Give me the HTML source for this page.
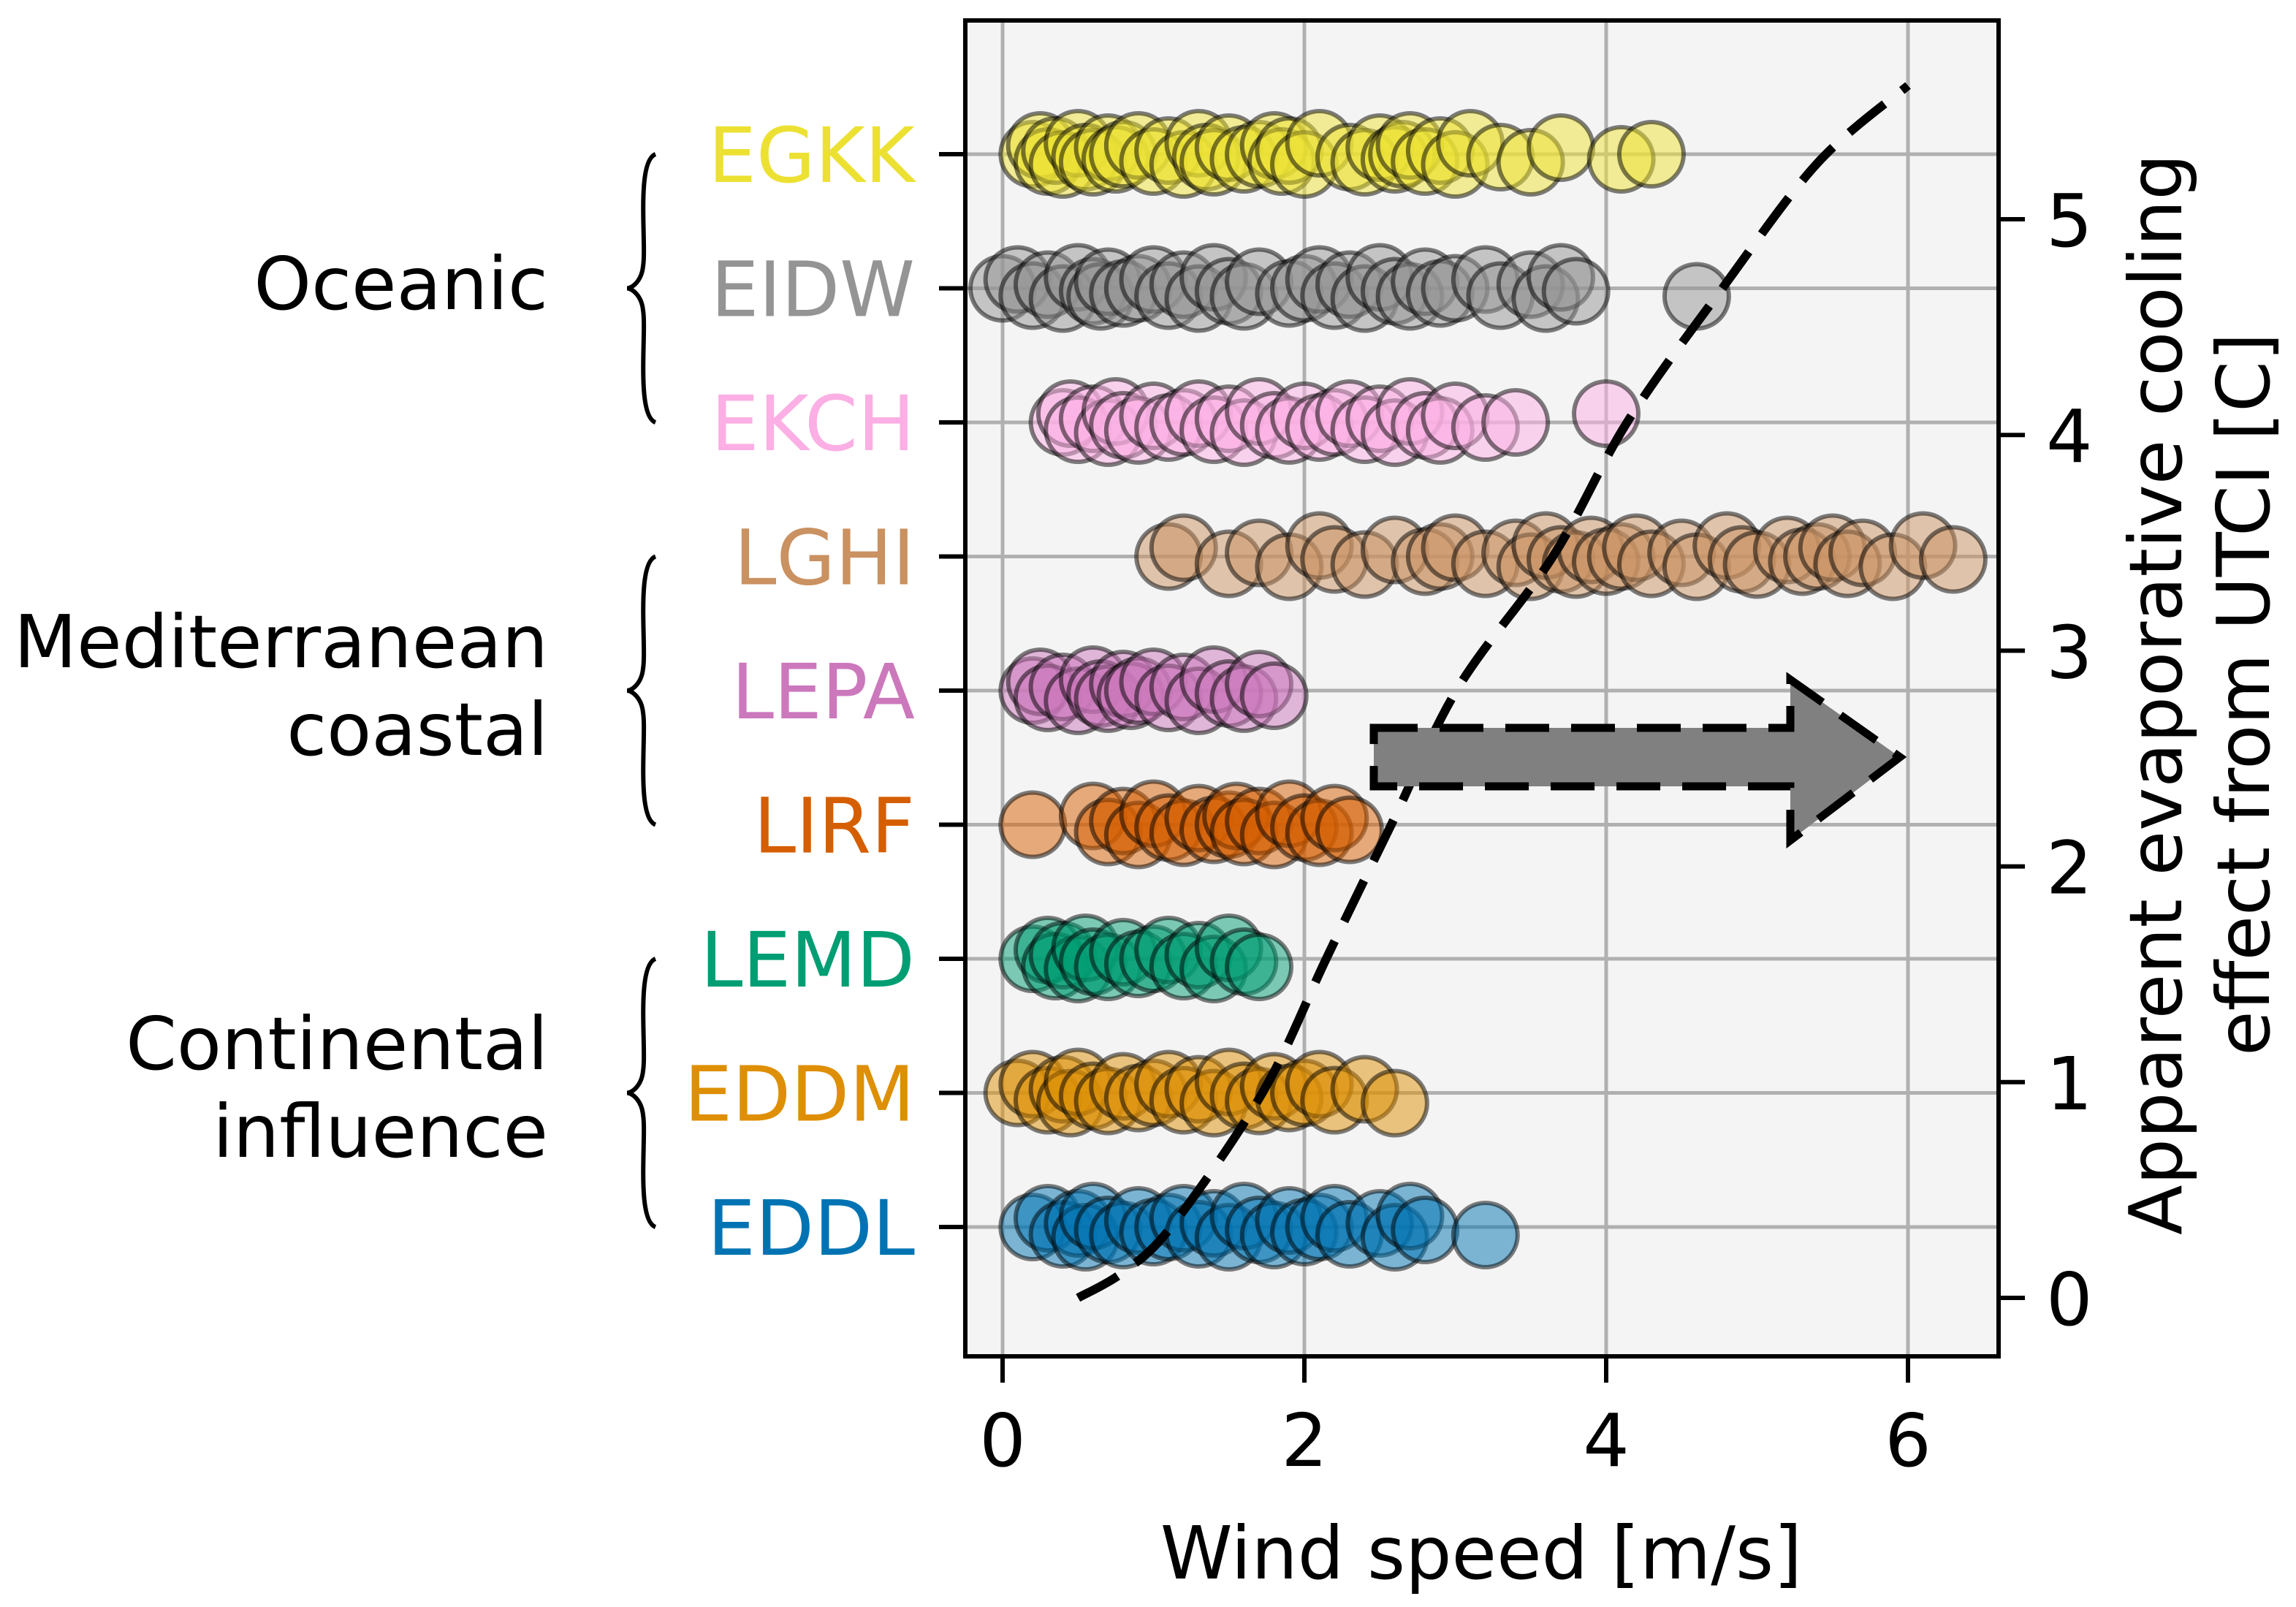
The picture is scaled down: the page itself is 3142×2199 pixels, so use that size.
<!DOCTYPE html>
<html><head><meta charset="utf-8"><style>
html,body{margin:0;padding:0;background:#fff}
svg{display:block}
text{font-family:"DejaVu Sans","Liberation Sans",sans-serif}
</style></head><body>
<svg id="chart" width="3142" height="2199" viewBox="0 0 3142 2199" xmlns="http://www.w3.org/2000/svg">
<rect x="1321" y="28" width="1414" height="1828" fill="#f4f4f4"/>
<g id="grid"></g>
<g id="points"></g>
<g id="curve"></g>
<path d="M1880,996 L2450,996 L2450,930 L2600,1036 L2450,1150 L2450,1076 L1880,1076 Z" fill="#808080" stroke="#000" stroke-width="11" stroke-dasharray="60,30"/>
<rect x="1321" y="28" width="1414" height="1828" fill="none" stroke="#000" stroke-width="6"/>
<g id="axes"></g>
<g font-size="100" fill="#000" text-anchor="end">
<text x="750" y="423">Oceanic</text>
<text x="750" y="913">Mediterranean</text>
<text x="750" y="1033">coastal</text>
<text x="750" y="1463">Continental</text>
<text x="750" y="1583">influence</text>
</g>
<g id="braces" fill="none" stroke="#000" stroke-width="6"></g>
<text x="2027" y="2160" font-size="100" text-anchor="middle">Wind speed [m/s]</text>
<g transform="translate(3010,950) rotate(-90)" font-size="100" text-anchor="middle">
<text x="0" y="-25">Apparent evaporative cooling</text>
<text x="0" y="95">effect from UTCI [C]</text>
</g>
</svg>
<script>
const stations = ["EGKK","EIDW","EKCH","LGHI","LEPA","LIRF","LEMD","EDDM","EDDL"];
const stationColors = ["#ece133","#949494","#fbafe4","#ca9161","#cc78bc","#d55e00","#029e73","#de8f05","#0173b2"];
const windEGKK = [0.2,0.25,0.3,0.35,0.4,0.5,0.55,0.6,0.7,0.75,0.8,0.9,1.0,1.1,1.2,1.3,1.35,1.4,1.5,1.6,1.7,1.8,1.85,1.9,2.0,2.1,2.3,2.4,2.5,2.6,2.65,2.7,2.8,2.9,3.0,3.1,3.3,3.5,3.7,4.1,4.3];
const windEIDW = [0.0,0.1,0.2,0.3,0.4,0.5,0.6,0.65,0.7,0.8,0.9,1.0,1.1,1.2,1.3,1.4,1.5,1.6,1.7,1.9,2.0,2.1,2.2,2.3,2.4,2.5,2.6,2.7,2.8,2.9,3.0,3.2,3.3,3.5,3.6,3.7,3.8,4.6];
const windEKCH = [0.4,0.45,0.5,0.6,0.7,0.75,0.8,0.9,1.0,1.1,1.2,1.3,1.4,1.5,1.6,1.7,1.8,1.9,2.0,2.1,2.2,2.3,2.4,2.5,2.6,2.7,2.8,2.9,3.0,3.2,3.4,4.0];
const windLGHI = [1.1,1.2,1.5,1.7,1.9,2.1,2.2,2.4,2.6,2.8,2.9,3.0,3.2,3.4,3.5,3.6,3.7,3.8,3.9,4.0,4.1,4.2,4.3,4.5,4.6,4.8,4.9,5.0,5.2,5.3,5.4,5.5,5.6,5.7,5.9,6.1,6.3];
const windLEPA = [0.2,0.25,0.3,0.4,0.5,0.6,0.65,0.7,0.8,0.85,0.9,1.0,1.1,1.2,1.3,1.4,1.5,1.6,1.7,1.8];
const windLIRF = [0.2,0.6,0.7,0.8,0.9,1.0,1.1,1.2,1.3,1.4,1.5,1.55,1.6,1.7,1.8,1.9,2.0,2.1,2.2,2.3];
const windLEMD = [0.2,0.3,0.35,0.4,0.5,0.55,0.6,0.7,0.8,0.9,1.0,1.1,1.2,1.3,1.4,1.5,1.6,1.7];
const windEDDM = [0.1,0.2,0.3,0.4,0.45,0.5,0.6,0.7,0.8,0.9,1.0,1.1,1.2,1.3,1.4,1.5,1.6,1.7,1.8,1.9,2.0,2.1,2.2,2.4,2.6];
const windEDDL = [0.2,0.3,0.4,0.5,0.55,0.6,0.7,0.8,0.9,1.0,1.1,1.2,1.3,1.4,1.5,1.6,1.7,1.8,1.9,2.0,2.1,2.2,2.3,2.5,2.6,2.7,2.8,3.2];
const stationWinds = [windEGKK,windEIDW,windEKCH,windLGHI,windLEPA,windLIRF,windLEMD,windEDDM,windEDDL];
const curveWind = [0.5,0.8,1.13,1.73,2.15,2.58,3.02,3.65,4.14,4.77,5.4,6.0];
const curveCooling = [0.0,0.12,0.34,0.96,1.58,2.2,2.83,3.44,4.06,4.68,5.26,5.62];
const xTicks = [0,2,4,6];
const rightTicks = [0,1,2,3,4,5];

const NS="http://www.w3.org/2000/svg";
const sx = v => 1372 + v*206.5;
const sRow = i => 211 + i*183.5;
const sy2 = v => 1776 - v*295.2;
function mk(tag, parent, attrs){const e=document.createElementNS(NS,tag);for(const k in attrs)e.setAttribute(k,attrs[k]);parent.appendChild(e);return e;}
const grid=document.getElementById('grid'), pts=document.getElementById('points'), axes=document.getElementById('axes'), curve=document.getElementById('curve'), braces=document.getElementById('braces');

xTicks.forEach(t=>{
  const g=mk('line',grid,{x1:sx(t),x2:sx(t),y1:28,y2:1856,stroke:'#b0b0b0','stroke-width':5});
  
  
  const tk=mk('line',axes,{x1:sx(t),x2:sx(t),y1:1856,y2:1892,stroke:'#000','stroke-width':6});
  
  
  const lb=mk('text',axes,{x:sx(t),y:2006,'font-size':100,'text-anchor':'middle'});
  lb.textContent=t;
  
  
});
stations.forEach((s,i)=>{
  const y=sRow(i);
  const g=mk('line',grid,{x1:1321,x2:2735,y1:y,y2:y,stroke:'#b0b0b0','stroke-width':5});
  
  
  const tk=mk('line',axes,{x1:1285,x2:1321,y1:y,y2:y,stroke:'#000','stroke-width':6});
  
  
  const lb=mk('text',axes,{x:1252,y:y+38,'font-size':104,'text-anchor':'end',fill:stationColors[i]});
  lb.textContent=s;
  
  
  stationWinds[i].forEach((w,j)=>{
    const off=[0,-12,10,-5,14,-15,4,11,-9,7][j%10];
    const c=mk('circle',pts,{cx:sx(w),cy:y+off,r:44,fill:stationColors[i],'fill-opacity':0.5,stroke:'#000','stroke-opacity':0.5,'stroke-width':6});
    
    
  });
});
rightTicks.forEach(t=>{
  const y=sy2(t);
  const tk=mk('line',axes,{x1:2735,x2:2771,y1:y,y2:y,stroke:'#000','stroke-width':6});
  
  
  const lb=mk('text',axes,{x:2800,y:y+37,'font-size':100});
  lb.textContent=t;
  
  
});
const P=curveWind.map((w,i)=>[sx(w),sy2(curveCooling[i])]);
let d='M'+P[0][0].toFixed(1)+','+P[0][1].toFixed(1);
for(let i=0;i<P.length-1;i++){
  const p0=P[Math.max(i-1,0)],p1=P[i],p2=P[i+1],p3=P[Math.min(i+2,P.length-1)];
  const c1=[p1[0]+(p2[0]-p0[0])/6,p1[1]+(p2[1]-p0[1])/6];
  const c2=[p2[0]-(p3[0]-p1[0])/6,p2[1]-(p3[1]-p1[1])/6];
  d+=`C${c1[0].toFixed(1)},${c1[1].toFixed(1)} ${c2[0].toFixed(1)},${c2[1].toFixed(1)} ${p2[0].toFixed(1)},${p2[1].toFixed(1)}`;
}
const cp=mk('path',curve,{d:d,fill:'none',stroke:'#000','stroke-width':12,'stroke-dasharray':'62,30'});


[[0,2],[3,5],[6,8]].forEach(([a,b])=>{
  const y1=sRow(a),y2=sRow(b),m=(y1+y2)/2;
  const p=`M897,${y1} C870,${y1+10} 885,${m-60} 880,${m-30} C878,${m-10} 865,${m} 858,${m} C865,${m} 878,${m+10} 880,${m+30} C885,${m+60} 870,${y2-10} 897,${y2}`;
  const br=mk('path',braces,{d:p});
  
  
});
</script>
</body></html>
